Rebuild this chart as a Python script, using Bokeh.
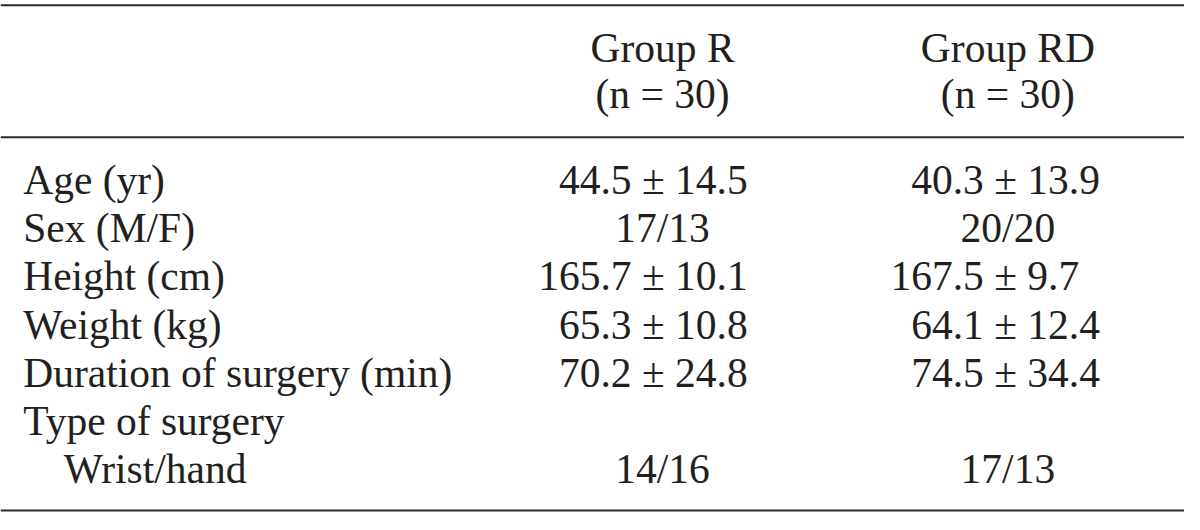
from bokeh.plotting import figure
from bokeh.models import ColumnDataSource, Range1d
from bokeh.core.properties import value
from bokeh.embed import file_html
from bokeh.resources import INLINE

# ---- table content ----
row_labels = ["Age (yr)", "Sex (M/F)", "Height (cm)", "Weight (kg)",
              "Duration of surgery (min)", "Type of surgery", "Wrist/hand"]
row_indent = [0, 0, 0, 0, 0, 0, 1]
group_names = ["Group R", "Group RD"]
group_n = ["(n = 30)", "(n = 30)"]
group_r = ["44.5 ± 14.5", "17/13", "165.7 ± 10.1", "65.3 ± 10.8",
           "70.2 ± 24.8", "", "14/16"]
group_rd = ["40.3 ± 13.9", "20/20", "167.5 ± 9.7", "64.1 ± 12.4",
            "74.5 ± 34.4", "", "17/13"]

# ---- layout (reference pixel units) ----
W, H = 1200, 530
FW, FH = 1184, 514
sx = FW / W
FONT = "Liberation Serif"
FS = 41.5  # screen px
COLOR = "#231f20"
LINE = "#2b2b2b"
BASE_FIX = -13.5  # compensate renderer baseline offset

label_x = 23
indent_dx = 41
row_y0 = 198.5
row_dy = 49.7
header_y = [62, 110]
col_center = [671, 1021]
col_pm = [662, 1019]
rules_y = [5, 141, 526]

EM = {d: 0.5 for d in "0123456789"}
EM.update({".": 0.25, " ": 0.25, "±": 0.564, "/": 0.278})


def text_w(s):
    return sum(EM.get(c, 0.5) for c in s) * FS


p = figure(width=FW, height=FH, x_range=Range1d(0, W), y_range=Range1d(H, 0),
           output_backend="svg", toolbar_location=None, min_border=0)
p.axis.visible = False
p.grid.visible = False
p.outline_line_color = None
p.background_fill_color = "white"
p.border_fill_color = "white"

# horizontal rules of the table
p.segment(x0=[0] * len(rules_y), x1=[W] * len(rules_y), y0=rules_y, y1=rules_y,
          line_color=LINE, line_width=2)

xs, ys, ts, aligns = [], [], [], []

# column headers
for c, name, n in zip(col_center, group_names, group_n):
    xs += [c, c]
    ys += [header_y[0] + BASE_FIX, header_y[1] + BASE_FIX]
    ts += [name, n]
    aligns += ["center", "center"]

# row labels
for i, (lab, ind) in enumerate(zip(row_labels, row_indent)):
    xs.append(label_x + ind * indent_dx)
    ys.append(row_y0 + i * row_dy + BASE_FIX)
    ts.append(lab)
    aligns.append("left")

# cell values (mean ± SD aligned on the ± sign)
for col, vals in enumerate([group_r, group_rd]):
    for i, v in enumerate(vals):
        if not v:
            continue
        y = row_y0 + i * row_dy + BASE_FIX
        if "±" in v:
            left = v.split("±")[0]
            off = (text_w(left) + EM["±"] * FS / 2) / sx
            xs.append(col_pm[col] - off)
            aligns.append("left")
        else:
            xs.append(col_center[col])
            aligns.append("center")
        ys.append(y)
        ts.append(v)

src = ColumnDataSource(dict(x=xs, y=ys, text=ts, align=aligns))
p.text(x="x", y="y", text="text", source=src, text_align="align",
       text_baseline="alphabetic", text_font=value(FONT),
       text_font_size=value(f"{FS}px"), text_color=COLOR)

open("out.html", "w").write(file_html(p, INLINE))
